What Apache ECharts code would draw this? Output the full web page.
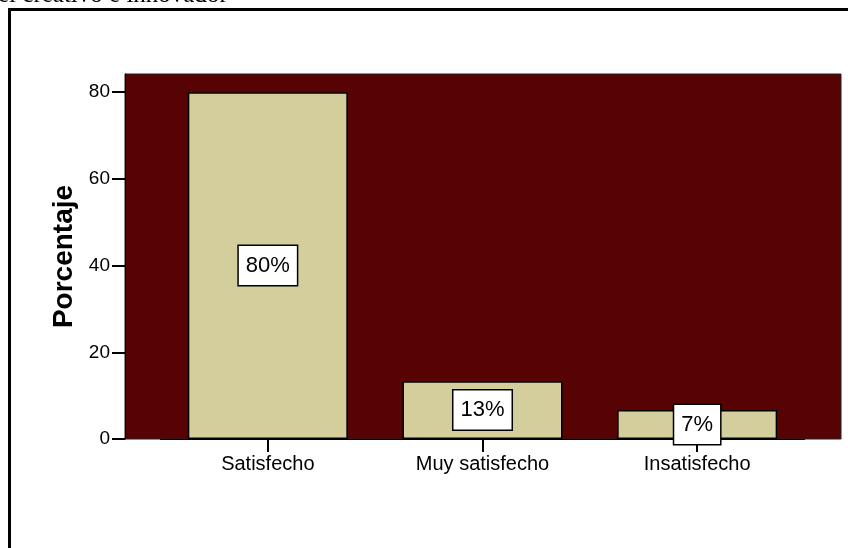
<!DOCTYPE html>
<html>
<head>
<meta charset="utf-8">
<script src="https://cdn.jsdelivr.net/npm/echarts@6/dist/echarts.min.js"></script>
<style>
  html, body { margin: 0; padding: 0; background: #ffffff; }
  #chart { width: 848px; height: 548px; }
</style>
</head>
<body>
<div id="chart"></div>
<script>
// Satisfaction categories and their percentages
const categories = ['Satisfecho', 'Muy satisfecho', 'Insatisfecho'];
const percentages = [80, 13.33, 6.67];
const yTicks = [0, 20, 40, 60, 80];

const FONT = '"Liberation Sans", Arial, sans-serif';
const AXIS_MAX = 84.2;

const chart = echarts.init(document.getElementById('chart'), null, { renderer: 'canvas' });

chart.setOption({
  animation: false,
  backgroundColor: '#ffffff',
  graphic: [
    {
      // caption line running off the top of the page
      type: 'text',
      left: -2,
      top: -17,
      style: {
        text: 'el creativo e innovador',
        font: '25px "Liberation Serif", "Times New Roman", serif',
        fill: '#000'
      },
      z: 10
    },
    {
      // outer frame
      type: 'rect',
      shape: { x: 9.5, y: 9.5, width: 900, height: 600 },
      style: { fill: 'none', stroke: '#000', lineWidth: 3 },
      z: 10
    }
  ],
  grid: [
    {
      // plot background
      left: 125, right: 7, top: 74, bottom: 109,
      show: true,
      backgroundColor: '#580303',
      borderColor: '#222',
      borderWidth: 1
    },
    {
      // bar area
      left: 160.5, right: 43.5, top: 74, bottom: 109
    }
  ],
  xAxis: [
    {
      gridIndex: 0, type: 'value', show: false, min: 0, max: 1
    },
    {
      gridIndex: 1,
      type: 'category',
      data: categories,
      axisLine: { show: true, lineStyle: { color: '#000', width: 1 } },
      axisTick: { show: true, alignWithLabel: true, length: 13, lineStyle: { color: '#000', width: 2 } },
      axisLabel: { color: '#000', fontSize: 20, fontFamily: FONT, margin: 15 }
    }
  ],
  yAxis: [
    {
      gridIndex: 0,
      type: 'value',
      min: 0,
      max: AXIS_MAX,
      interval: 20,
      name: 'Porcentaje',
      nameLocation: 'middle',
      nameGap: 43,
      nameTextStyle: { color: '#000', fontSize: 28, fontWeight: 'bold', fontFamily: FONT },
      axisLine: { show: true, lineStyle: { color: '#000', width: 1 } },
      axisTick: { show: true, length: 13, customValues: yTicks, lineStyle: { color: '#000', width: 2 } },
      axisLabel: {
        color: '#000', fontSize: 19, fontFamily: FONT, margin: 15,
        customValues: yTicks
      },
      splitLine: { show: false }
    },
    {
      gridIndex: 1, type: 'value', min: 0, max: AXIS_MAX, show: false, splitLine: { show: false }
    }
  ],
  series: [
    {
      type: 'bar',
      xAxisIndex: 1,
      yAxisIndex: 1,
      data: percentages,
      barWidth: 160,
      itemStyle: { color: '#d3ce9b', borderColor: '#000', borderWidth: 1.5 },
      label: {
        show: true,
        position: 'inside',
        formatter: p => Math.round(p.value) + '%',
        color: '#000',
        fontSize: 22,
        fontFamily: FONT,
        backgroundColor: '#ffffff',
        borderColor: '#000',
        borderWidth: 1.5,
        padding: [9, 7, 8, 7],
        lineHeight: 22
      }
    }
  ]
});
</script>
</body>
</html>
